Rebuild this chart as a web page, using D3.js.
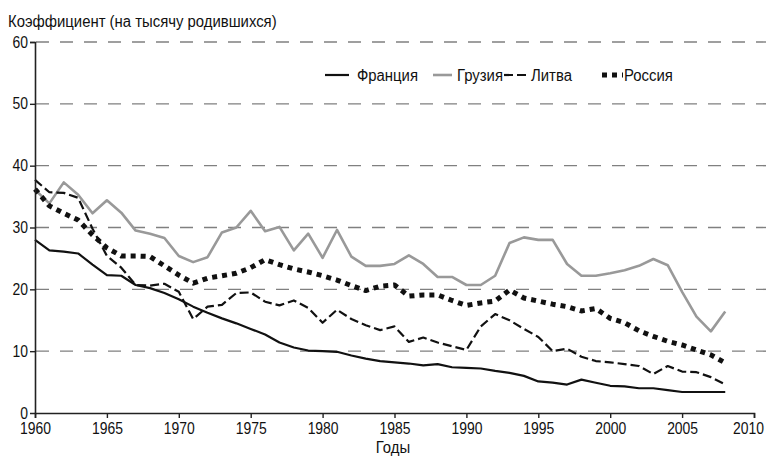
<!DOCTYPE html>
<html>
<head>
<meta charset="utf-8">
<script src="https://cdn.jsdelivr.net/npm/d3@7"></script>
<style>
  body { margin: 0; background: #fff; }
  svg { display: block; }
  text { font-family: "Liberation Sans", Arial, sans-serif; fill: #111; }
</style>
</head>
<body>
<svg width="768" height="466"></svg>
<script>
// years 1960..2008
const years = d3.range(1960, 2009);

// values (per 1000 births)
const france = [28.0, 26.3, 26.1, 25.8, 24.0, 22.3, 22.2, 20.7, 20.2, 19.4,
  18.4, 17.2, 16.2, 15.3, 14.5, 13.6, 12.7, 11.4, 10.6, 10.1,
  10.0, 9.9, 9.3, 8.8, 8.4, 8.2, 8.0, 7.7, 7.9, 7.4,
  7.3, 7.2, 6.8, 6.5, 6.0, 5.1, 4.9, 4.6, 5.4, 4.9,
  4.4, 4.3, 4.0, 4.0, 3.7, 3.4, 3.4, 3.4, 3.4];
const georgia = [36.1, 33.9, 37.3, 35.3, 32.3, 34.4, 32.4, 29.5, 29.0, 28.3,
  25.4, 24.4, 25.2, 29.2, 30.0, 32.7, 29.4, 30.1, 26.3, 29.0,
  25.1, 29.6, 25.3, 23.8, 23.8, 24.1, 25.5, 24.1, 22.0, 22.0,
  20.7, 20.7, 22.2, 27.5, 28.4, 28.0, 28.0, 24.1, 22.2, 22.2,
  22.6, 23.1, 23.8, 24.9, 23.9, 19.6, 15.6, 13.2, 16.4];
const lithuania = [37.7, 35.7, 35.6, 34.8, 29.8, 25.4, 23.5, 20.7, 20.6, 20.9,
  19.6, 15.2, 17.2, 17.5, 19.4, 19.5, 18.0, 17.4, 18.2, 17.0,
  14.6, 16.7, 15.2, 14.2, 13.4, 14.0, 11.5, 12.2, 11.4, 10.8,
  10.2, 14.0, 16.0, 15.0, 13.6, 12.3, 10.0, 10.4, 9.1, 8.4,
  8.2, 7.9, 7.6, 6.3, 7.6, 6.7, 6.6, 5.8, 4.6];
const russia = [36.2, 33.5, 32.3, 31.2, 28.8, 26.7, 25.4, 25.4, 25.3, 23.8,
  22.3, 21.0, 21.8, 22.2, 22.6, 23.5, 24.8, 24.0, 23.3, 22.8,
  22.2, 21.5, 20.6, 19.8, 20.5, 20.7, 18.9, 19.1, 19.1, 18.2,
  17.4, 17.8, 18.1, 19.9, 18.6, 18.1, 17.6, 17.2, 16.5, 16.9,
  15.3, 14.6, 13.3, 12.4, 11.6, 11.0, 10.2, 9.4, 8.1];

const seriesNames = ["Франция", "Грузия", "Литва", "Россия"];
const xTicks = d3.range(1960, 2011, 5);
const yTicks = [0, 10, 20, 30, 40, 50, 60];

const styles = [
  {stroke: "#111", width: 2.2, dash: null},
  {stroke: "#999", width: 2.6, dash: null},
  {stroke: "#111", width: 2.2, dash: "9,4"},
  {stroke: "#111", width: 5, dash: "5,5"}
];
const allSeries = [france, georgia, lithuania, russia];

const svg = d3.select("svg");
const x = d3.scaleLinear().domain([1960, 2010]).range([35, 754]);
const y = d3.scaleLinear().domain([0, 60]).range([413, 42]);

// gridlines
svg.append("g")
  .selectAll("line")
  .data(yTicks.filter(d => d > 0))
  .join("line")
  .attr("x1", 36).attr("x2", 766)
  .attr("y1", d => y(d)).attr("y2", d => y(d))
  .attr("stroke", "#808080")
  .attr("stroke-width", 1.4)
  .attr("stroke-dasharray", "13,11");

// series
const line = d3.line().x((d, i) => x(years[i])).y(d => y(d));
allSeries.forEach(function(s, k) {
  svg.append("path")
    .datum(s)
    .attr("fill", "none")
    .attr("stroke", styles[k].stroke)
    .attr("stroke-width", styles[k].width)
    .attr("stroke-dasharray", styles[k].dash)
    .attr("stroke-linejoin", "round")
    .attr("d", line);
});

// axes
const xAxis = svg.append("g")
  .attr("transform", "translate(0," + y(0) + ")")
  .call(d3.axisBottom(x).tickValues(xTicks).tickFormat(d3.format("d")).tickSize(5));
const yAxis = svg.append("g")
  .attr("transform", "translate(" + x(1960) + ",0)")
  .call(d3.axisLeft(y).tickValues(yTicks).tickSize(5));

[xAxis, yAxis].forEach(function(a) {
  a.select(".domain").attr("stroke", "#222").attr("stroke-width", 1.6);
  a.selectAll(".tick line").attr("stroke", "#222").attr("stroke-width", 1.4);
  a.selectAll("text").attr("font-size", 16).attr("font-family", null)
    .attr("fill", "#111").classed("num", true);
});
xAxis.selectAll("text").attr("dy", "0.75em").attr("y", 9);
xAxis.selectAll(".tick").filter(d => d === 2010).select("text").attr("x", -6);
yAxis.selectAll("text").attr("x", -7);
yAxis.selectAll(".tick").filter(d => d === 0).select("line").remove();

// titles
svg.append("text")
  .attr("x", 8).attr("y", 27)
  .attr("font-size", 16)
  .text("Коэффициент (на тысячу родившихся)");
svg.append("text")
  .attr("x", 393).attr("y", 453)
  .attr("text-anchor", "middle")
  .attr("font-size", 16)
  .text("Годы");

// legend
const legendPos = [
  {x0: 325, x1: 349, tx: 357},
  {x0: 433, x1: 452, tx: 457},
  {x0: 504, x1: 529, tx: 531},
  {x0: 602, x1: 623, tx: 624}
];
const lg = svg.append("g");
seriesNames.forEach(function(name, k) {
  const p = legendPos[k];
  lg.append("line")
    .attr("x1", p.x0).attr("x2", p.x1)
    .attr("y1", 75).attr("y2", 75)
    .attr("stroke", styles[k].stroke)
    .attr("stroke-width", styles[k].width)
    .attr("stroke-dasharray", styles[k].dash);
  lg.append("text")
    .attr("x", p.tx).attr("y", 81)
    .attr("font-size", 16)
    .text(name);
});

// the original uses a narrow typeface: squeeze every text horizontally
svg.selectAll("text").each(function() {
  const w = this.getComputedTextLength();
  const f = d3.select(this).classed("num") ? 0.87 : 0.93;
  d3.select(this)
    .attr("textLength", w * f)
    .attr("lengthAdjust", "spacingAndGlyphs");
});
</script>
</body>
</html>
